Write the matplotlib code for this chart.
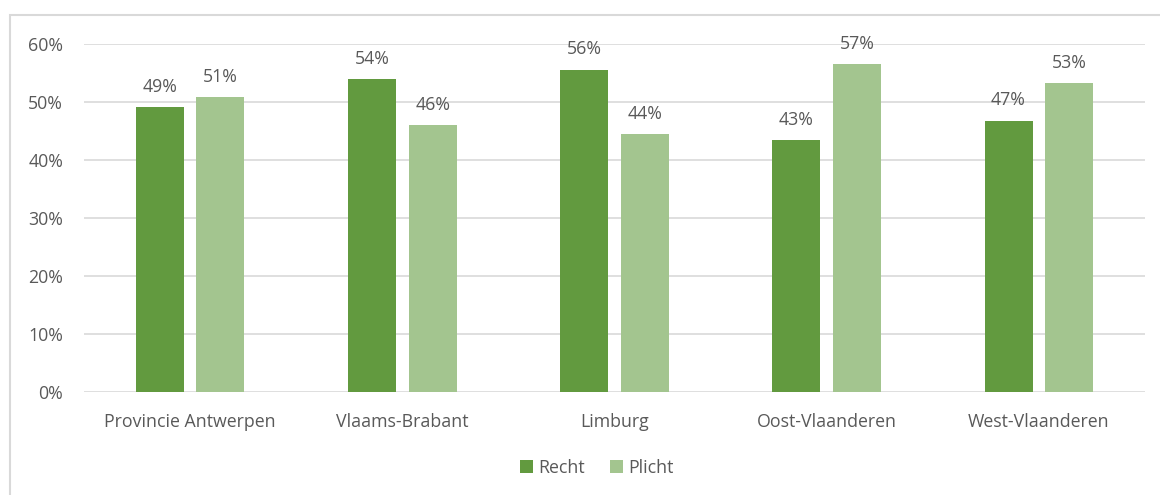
import numpy as np
import matplotlib
matplotlib.use('Agg')
import matplotlib.pyplot as plt
from matplotlib.patches import Rectangle

# Data
categories = ['Provincie Antwerpen', 'Vlaams-Brabant', 'Limburg',
              'Oost-Vlaanderen', 'West-Vlaanderen']
recht = [49.1, 54.0, 55.6, 43.4, 46.8]
plicht = [50.9, 46.0, 44.4, 56.6, 53.2]
yticks = [0, 10, 20, 30, 40, 50, 60]

col_recht = '#629a3f'
col_plicht = '#a3c58f'
txt = '#595959'
fs = 12.8

plt.rcParams['font.family'] = ['Open Sans', 'DejaVu Sans']

fig = plt.figure(figsize=(11.6, 4.95), dpi=100)
ax = fig.add_axes([84 / 1160, 1 - 392 / 495, (1145 - 84) / 1160, (392 - 44) / 495])

# figure border (light gray frame)
fig.patches.append(Rectangle((10 / 1160, -0.01), 1.02, 1 - 15 / 495 + 0.01,
                             transform=fig.transFigure, fill=False,
                             edgecolor='#d9d9d9', linewidth=1.5))

x = np.arange(len(categories))
w = 0.226
off = 0.143
b1 = ax.bar(x - off, recht, w, color=col_recht, label='Recht', zorder=3)
b2 = ax.bar(x + off, plicht, w, color=col_plicht, label='Plicht', zorder=3)

for bars, vals in ((b1, recht), (b2, plicht)):
    for b, v in zip(bars, vals):
        ax.annotate(f'{round(v):.0f}%', (b.get_x() + b.get_width() / 2, v),
                    xytext=(0, 8), textcoords='offset points',
                    ha='center', va='bottom', fontsize=fs, color=txt)

ax.set_xlim(-0.5, len(categories) - 0.5)
ax.set_ylim(0, 60)
ax.set_yticks(yticks)
ax.set_yticklabels([f'{t}%' for t in yticks])
ax.set_xticks(x)
ax.set_xticklabels(categories)
ax.tick_params(length=0, labelsize=fs, colors=txt)
ax.tick_params(axis='y', pad=15)
ax.tick_params(axis='x', pad=15)
ax.grid(axis='y', color='#d9d9d9', linewidth=1.2, zorder=0)
for s in ax.spines.values():
    s.set_visible(False)

fig.legend(loc='center', bbox_to_anchor=(597 / 1160, 1 - 468 / 495), ncol=2,
           frameon=False, fontsize=fs, labelcolor=txt, handlelength=0.75,
           handleheight=0.75, handletextpad=0.3, columnspacing=1.4)

fig.savefig('out.png', dpi=100)
